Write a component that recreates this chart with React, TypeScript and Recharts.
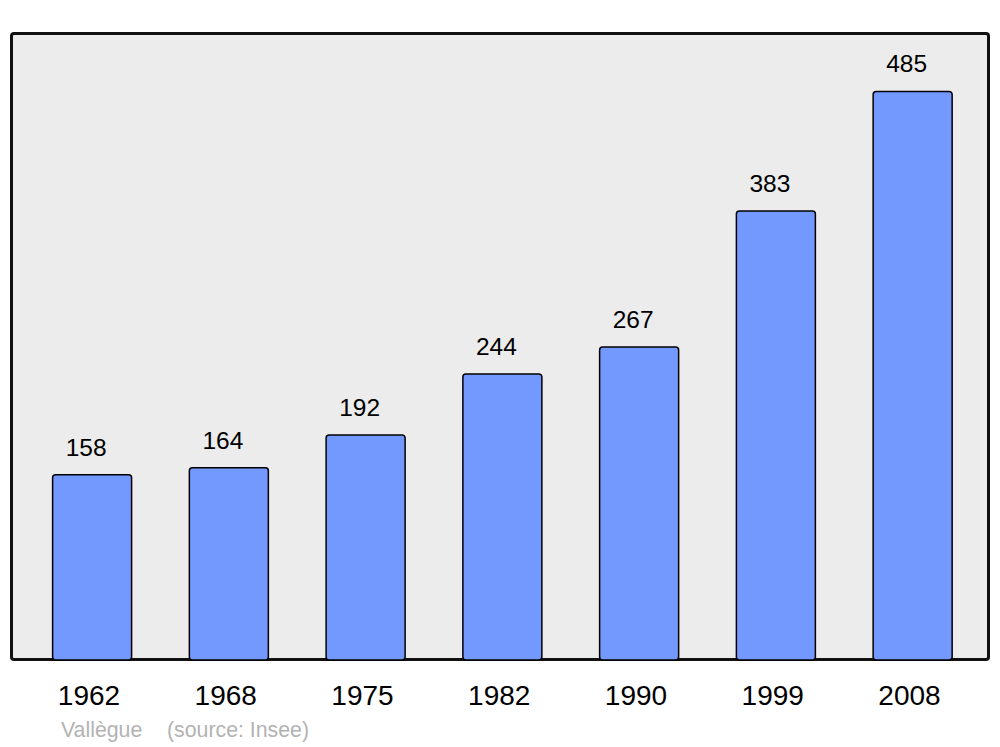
import { BarChart, Bar, XAxis, YAxis, LabelList, Customized } from "recharts";

const years = ["1962", "1968", "1975", "1982", "1990", "1999", "2008"];
const population = [158, 164, 192, 244, 267, 383, 485];

const data = years.map((year, i) => ({ year, population: population[i] }));

const Footer = () => (
  <text x={61} y={737} fontSize={21.3} fill="#b3b3b3">
    <tspan>Vallègue</tspan>
    <tspan x={167}>(source: Insee)</tspan>
  </text>
);

const App = () => {
  return (
    <div style={{ position: "relative", width: 1000, height: 747, fontFamily: "'Liberation Sans', Arial, sans-serif" }}>
      <style>{`body { margin: 0; background: #fff; }`}</style>
      <div
        style={{
          position: "absolute",
          left: 10,
          top: 32,
          width: 980,
          height: 629,
          boxSizing: "border-box",
          border: "3px solid #111",
          borderRadius: 4,
          background: "#ececec",
        }}
      />
      <div style={{ position: "absolute", left: 0, top: 0 }}>
        <BarChart width={1000} height={747} data={data} margin={{ top: 34, right: 11, bottom: 47, left: 11 }} barSize={79}>
          <XAxis
            dataKey="year"
            axisLine={false}
            tickLine={false}
            tickSize={0}
            tickMargin={25}
            height={40}
            padding={{ left: 12.6, right: 8.1 }}
            tick={{ fill: "#000", fontSize: 28, dx: -3 }}
          />
          <YAxis hide domain={[0, 534]} />
          <Bar
            dataKey="population"
            fill="#7399ff"
            stroke="#000"
            strokeWidth={1.5}
            radius={3}
            isAnimationActive={false}
          >
            <LabelList dataKey="population" position="top" offset={19} fill="#000" fontSize={24.5} dx={-6} />
          </Bar>
          <Customized component={Footer} />
        </BarChart>
      </div>
    </div>
  );
};

export default App;
